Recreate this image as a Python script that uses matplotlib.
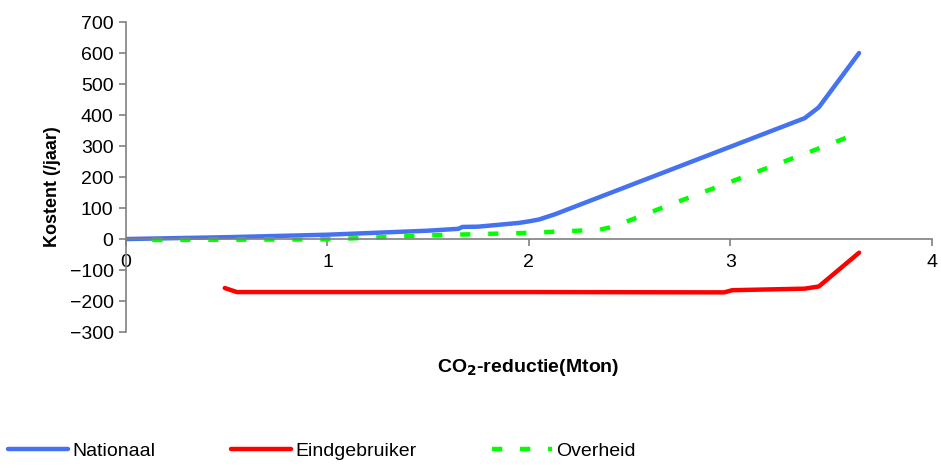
import matplotlib.pyplot as plt
import numpy as np

plt.rcParams['font.family'] = ['Liberation Sans', 'DejaVu Sans']

# Nationaal
nat_x = [0.0, 0.5, 1.0, 1.5, 1.65, 1.67, 1.75, 1.95, 2.0, 2.05, 2.13, 3.37, 3.44, 3.64]
nat_y = [0, 6, 14, 27, 33, 39, 40, 52, 57, 63, 80, 390, 425, 600]
# Eindgebruiker
eind_x = [0.49, 0.55, 1.0, 2.0, 2.97, 3.01, 3.37, 3.44, 3.64]
eind_y = [-158, -171, -171, -171, -172, -165, -160, -153, -44]
# Overheid
ovh_x = [0.13, 0.6, 1.0, 1.5, 2.0, 2.35, 2.42, 2.67, 3.43, 3.64]
ovh_y = [-3, -2, -1, 12, 20, 30, 40, 103, 290, 343]

fig = plt.figure(figsize=(9.41, 4.69), dpi=100)
ax = fig.add_axes([0.134, 0.292, 0.856, 0.661])

l1, = ax.plot(nat_x, nat_y, color='#4472F0', lw=3.2, solid_capstyle='round', label='Nationaal')
l2, = ax.plot(eind_x, eind_y, color='#FF0000', lw=3.2, solid_capstyle='round', label='Eindgebruiker')
l3, = ax.plot(ovh_x, ovh_y, color='#00FF00', lw=3.2, dashes=(2.3, 4.0), label='Overheid')

ax.set_xlim(0, 4)
ax.set_ylim(-300, 700)
ax.set_yticks(np.arange(-300, 701, 100))
ax.set_xticks([0, 1, 2, 3, 4])

for s in ['top', 'right']:
    ax.spines[s].set_visible(False)
ax.spines['bottom'].set_position(('data', 0))
for s in ['left', 'bottom']:
    ax.spines[s].set_color('#808080')
    ax.spines[s].set_linewidth(1.2)
ax.tick_params(axis='both', colors='#808080', labelcolor='black', labelsize=14,
               length=5, width=1.2, direction='out')
ax.tick_params(axis='x', pad=6)
ax.tick_params(axis='y', pad=4)

ax.set_ylabel('Kostent (/jaar)', fontsize=13, fontweight='bold')
ax.yaxis.set_label_coords(-0.081, 0.47)
fig.text(0.5616, 0.2154, 'CO$_\\mathbf{2}$-reductie(Mton)', fontsize=14, fontweight='bold',
         ha='center', va='center')

fig.legend(handles=[l1, l2, l3], loc='lower left', bbox_to_anchor=(-0.004, -0.005),
           ncol=3, frameon=False, fontsize=14, handlelength=3.1, handletextpad=0.2,
           columnspacing=3.9, borderaxespad=0.2)

fig.savefig('out.png', dpi=100)
